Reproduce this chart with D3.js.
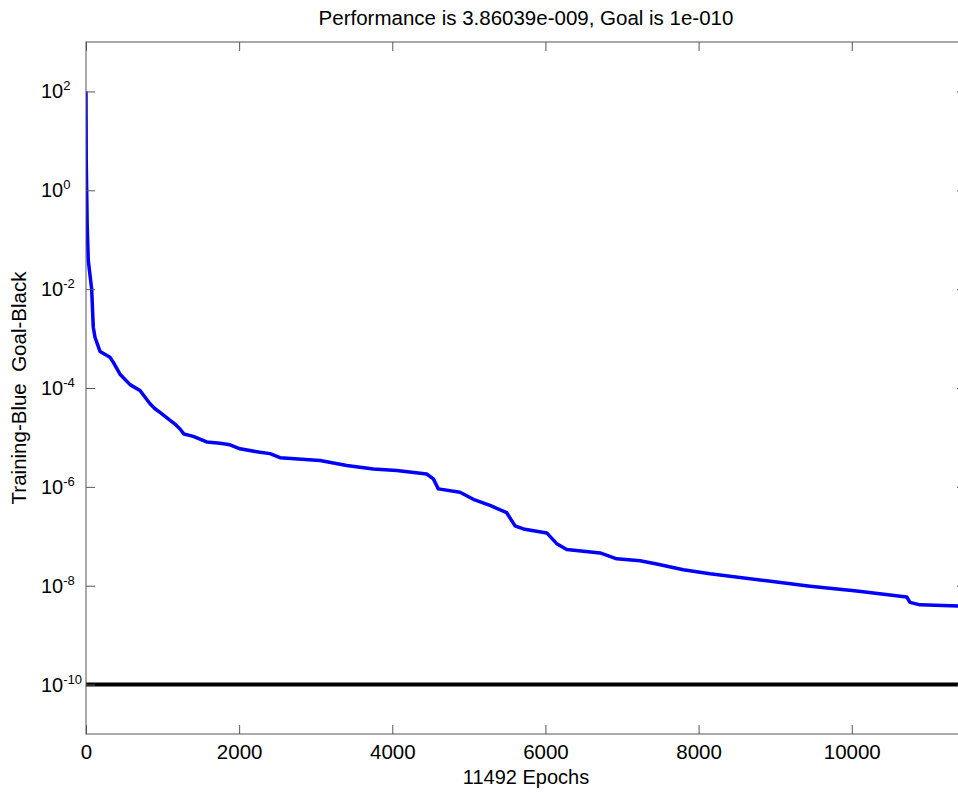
<!DOCTYPE html>
<html>
<head>
<meta charset="utf-8">
<title>Training performance</title>
<script src="https://cdn.jsdelivr.net/npm/d3@7/dist/d3.min.js"></script>
<style>
	html, body { margin: 0; padding: 0; background: #fff; }
	svg { display: block; font-family: "Liberation Sans", Arial, sans-serif; }
	text { white-space: pre; }
</style>
</head>
<body>
<div id="graph"></div>
<script>
// training record: epoch and performance (mse)
var epochs = [0, 3, 15, 30, 74, 95, 118, 183, 313, 357, 444, 575, 705, 836, 901, 966,
	1162, 1228, 1280, 1401, 1576, 1750, 1881, 2011, 2272, 2403, 2534, 3056, 3405, 3752,
	4058, 4449, 4536, 4601, 4884, 5058, 5276, 5494, 5603, 5711, 6017, 6147, 6278, 6713,
	6931, 7235, 7453, 7801, 8149, 8890, 9456, 10065, 10718, 10761, 10892, 11492];
var performance = [100, 4.0, 0.21, 0.038, 0.01, 1.7e-3, 1.05e-3, 5.5e-4, 4.2e-4, 3.3e-4,
	1.9e-4, 1.17e-4, 8.9e-5, 4.8e-5, 3.8e-5, 3.2e-5, 1.86e-5, 1.48e-5, 1.17e-5, 1.05e-5,
	8.1e-6, 7.6e-6, 7.1e-6, 5.9e-6, 5.0e-6, 4.7e-6, 3.9e-6, 3.4e-6, 2.7e-6, 2.3e-6,
	2.14e-6, 1.82e-6, 1.45e-6, 9.1e-7, 7.8e-7, 5.6e-7, 4.2e-7, 3.0e-7, 1.62e-7, 1.41e-7,
	1.17e-7, 7.1e-8, 5.4e-8, 4.6e-8, 3.5e-8, 3.2e-8, 2.75e-8, 2.1e-8, 1.74e-8, 1.26e-8,
	9.8e-9, 7.8e-9, 5.9e-9, 4.6e-9, 4.1e-9, 3.86e-9];
var goal = 1e-10;
var totalEpochs = 11492;

var xTicks = [0, 2000, 4000, 6000, 8000, 10000];
var yExponents = [2, 0, -2, -4, -6, -8, -10];

var titleText = "Performance is 3.86039e-009, Goal is 1e-010";
var xLabelText = "11492 Epochs";
var yLabelText = "Training-Blue  Goal-Black";

(function() {
	var width = 958, height = 792;
	var box = { left: 86, top: 42, right: 966, bottom: 734 };
	var axisColor = "#555";

	var svg = d3.select("#graph").append("svg")
		.attr("width", width)
		.attr("height", height);

	var x = d3.scaleLinear()
		.domain([0, totalEpochs])
		.range([box.left, box.right]);

	var y = d3.scaleLog()
		.domain([1e-11, 1e3])
		.range([box.bottom, box.top]);

	var yTickValues = yExponents.map(function(e) { return Math.pow(10, e); });

	svg.append("clipPath").attr("id", "plotClip")
		.append("rect")
		.attr("x", box.left)
		.attr("y", box.top)
		.attr("width", box.right - box.left)
		.attr("height", box.bottom - box.top);

	// goal line first, training curve on top
	svg.append("line")
		.attr("clip-path", "url(#plotClip)")
		.attr("x1", x(0))
		.attr("x2", x(totalEpochs))
		.attr("y1", y(goal))
		.attr("y2", y(goal))
		.attr("stroke", "#000")
		.attr("stroke-width", 4);

	var line = d3.line()
		.x(function(d, i) { return x(epochs[i]); })
		.y(function(d) { return y(d); });

	svg.append("path")
		.datum(performance)
		.attr("clip-path", "url(#plotClip)")
		.attr("fill", "none")
		.attr("stroke", "#0000ff")
		.attr("stroke-width", 3.5)
		.attr("stroke-linejoin", "round")
		.attr("d", line);

	// axes: ticks point inward on all four sides
	var styleAxis = function(g) {
		g.select(".domain").remove();
		g.selectAll(".tick line").attr("stroke", axisColor);
		g.selectAll(".tick text")
			.attr("fill", "#000")
			.attr("font-family", "Liberation Sans, Arial, sans-serif");
	};

	svg.append("g")
		.attr("transform", "translate(0," + box.bottom + ")")
		.call(d3.axisBottom(x).tickValues(xTicks).tickSizeInner(-9).tickSizeOuter(0)
			.tickPadding(10).tickFormat(d3.format("d")))
		.call(styleAxis)
		.selectAll(".tick text").attr("font-size", 20.5);

	svg.append("g")
		.attr("transform", "translate(0," + box.top + ")")
		.call(d3.axisTop(x).tickValues(xTicks).tickSizeInner(-9).tickSizeOuter(0)
			.tickFormat(""))
		.call(styleAxis);

	svg.append("g")
		.attr("transform", "translate(" + box.left + ",0)")
		.call(d3.axisLeft(y).tickValues(yTickValues).tickSizeInner(-9).tickSizeOuter(0)
			.tickFormat(""))
		.call(styleAxis);

	svg.append("g")
		.attr("transform", "translate(" + box.right + ",0)")
		.call(d3.axisRight(y).tickValues(yTickValues).tickSizeInner(-9).tickSizeOuter(0)
			.tickFormat(""))
		.call(styleAxis);

	// 10^n labels with a raised exponent
	var labels = svg.append("g").selectAll("text")
		.data(yExponents)
		.enter()
		.append("text")
		.attr("x", 41)
		.attr("y", function(e) { return y(Math.pow(10, e)) + 7; })
		.attr("font-size", 20)
		.attr("fill", "#000");
	labels.append("tspan").text("10");
	labels.append("tspan")
		.attr("font-size", 13)
		.attr("dy", -8)
		.text(function(e) { return e; });

	// box around the plot
	svg.append("rect")
		.attr("x", box.left)
		.attr("y", box.top)
		.attr("width", box.right - box.left)
		.attr("height", box.bottom - box.top)
		.attr("fill", "none")
		.attr("stroke", axisColor)
		.attr("stroke-width", 1);

	svg.append("text")
		.attr("x", (box.left + box.right) / 2)
		.attr("y", 25)
		.attr("text-anchor", "middle")
		.attr("font-size", 20.5)
		.text(titleText);

	svg.append("text")
		.attr("x", (box.left + box.right) / 2)
		.attr("y", 784)
		.attr("text-anchor", "middle")
		.attr("font-size", 20)
		.text(xLabelText);

	svg.append("text")
		.attr("transform", "translate(26," + ((box.top + box.bottom) / 2) + ") rotate(-90)")
		.attr("text-anchor", "middle")
		.attr("font-size", 20.5)
		.text(yLabelText);
})();
</script>
</body>
</html>
